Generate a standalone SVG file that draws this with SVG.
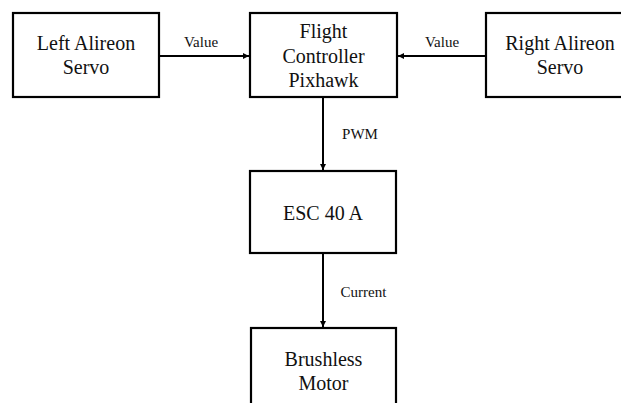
<svg xmlns="http://www.w3.org/2000/svg" width="621" height="403" viewBox="0 0 621 403">
<style>
.box{fill:#fff;stroke:#000;stroke-width:2.2}
.t{font-family:"Liberation Serif","Times New Roman",serif;font-size:20px;text-anchor:middle;fill:#111}
.s{font-family:"Liberation Serif","Times New Roman",serif;font-size:15px;text-anchor:middle;fill:#111}
.c{stroke:#000;stroke-width:2;fill:none;marker-end:url(#ah)}
</style>
<defs>
<marker id="ah" markerWidth="8" markerHeight="8" refX="6" refY="3" orient="auto" markerUnits="userSpaceOnUse" viewBox="0 0 8 6"><path d="M0,0 L6,3 L0,6 Z" fill="#000"/></marker>
</defs>
<rect width="621" height="403" fill="#fff"/>
<g id="connectors">
<line class="c" x1="159" y1="56" x2="249" y2="56"/>
<line class="c" x1="486" y1="56" x2="398" y2="56"/>
<line class="c" x1="323" y1="97" x2="323" y2="170"/>
<line class="c" x1="323" y1="253" x2="323" y2="327"/>
<text class="s" x="201" y="46.5">Value</text>
<text class="s" x="442" y="46.5">Value</text>
<text class="s" x="360" y="139">PWM</text>
<text class="s" x="363.5" y="297">Current</text>
</g>
<g id="left-servo">
<rect class="box" x="13" y="13" width="146" height="84"/>
<text class="t" x="86" y="50">Left Alireon</text>
<text class="t" x="86" y="74">Servo</text>
</g>
<g id="flight-controller">
<rect class="box" x="250" y="13" width="147" height="84"/>
<text class="t" x="323.5" y="38">Flight</text>
<text class="t" x="323.5" y="62.5">Controller</text>
<text class="t" x="323.5" y="86.5">Pixhawk</text>
</g>
<g id="right-servo">
<rect class="box" x="486" y="13" width="148" height="84"/>
<text class="t" x="560" y="50">Right Alireon</text>
<text class="t" x="560" y="74">Servo</text>
</g>
<g id="esc">
<rect class="box" x="250" y="171" width="146" height="82"/>
<text class="t" x="323" y="220">ESC 40 A</text>
</g>
<g id="motor">
<rect class="box" x="251" y="328" width="145" height="90"/>
<text class="t" x="323.5" y="366">Brushless</text>
<text class="t" x="323.5" y="389.5">Motor</text>
</g>
</svg>
